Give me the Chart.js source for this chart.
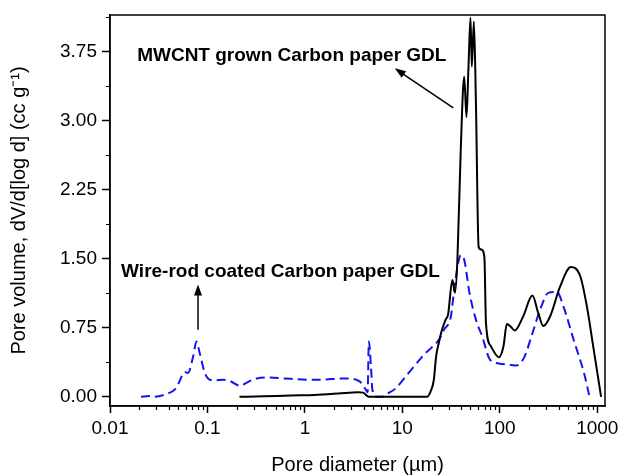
<!DOCTYPE html>
<html><head><meta charset="utf-8">
<script src="https://cdn.jsdelivr.net/npm/chart.js@4.4.1/dist/chart.umd.min.js"></script>
<style>html,body{margin:0;padding:0;background:#fff}</style>
</head><body>
<canvas id="c" width="619" height="475"></canvas>
<script>
// ---- data ----
const mwcntDiameter = [0.213,0.376,0.716,1.25,2.2,3.52,3.96,4.53,17.9,19.5,21.0,22.2,23.7,25.2,27.8,29.4,32.6,34.7,36.7,39.7,43.1,45.5,47.7,50.0,51.6,54.2,56.8,60.6,64.6,69.4,72.1,81,98,109,118,130,142,173,216,248,279,327,416,535,669,783,920,1094];
const mwcntVolume   = [0.0,0.005,0.015,0.02,0.035,0.05,0.045,0.0,0.0,0.06,0.18,0.44,0.59,0.71,0.84,0.89,1.27,1.13,1.49,2.68,3.48,3.04,3.59,4.12,3.59,4.08,3.22,1.63,1.60,1.52,0.80,0.55,0.43,0.55,0.79,0.76,0.72,0.87,1.10,0.91,0.77,0.87,1.20,1.41,1.31,0.98,0.51,0.0];
const wireDiameter  = [0.0208,0.0253,0.0285,0.0378,0.0472,0.051,0.0584,0.063,0.0714,0.077,0.0835,0.094,0.106,0.119,0.146,0.171,0.217,0.254,0.32,0.44,0.61,1.25,2.77,3.37,3.8,4.2,4.4,4.53,4.76,4.92,5.43,6.1,7.2,8.5,11.6,17.1,23.7,26.8,31.4,34,36.7,39.7,43.1,48.8,56.8,66.2,77.7,91.2,99.3,125,147,180,210,266,314,385,450,572,730,825];
const wireVolume    = [0.0,0.01,0.0,0.03,0.09,0.155,0.27,0.26,0.44,0.60,0.47,0.26,0.185,0.18,0.185,0.17,0.12,0.155,0.20,0.21,0.20,0.185,0.20,0.185,0.15,0.08,0.05,0.60,0.33,0.08,0.0,0.0,0.04,0.09,0.26,0.47,0.62,0.73,0.87,1.16,1.41,1.54,1.49,1.13,0.84,0.65,0.42,0.37,0.36,0.35,0.34,0.44,0.65,0.98,1.13,1.14,0.98,0.62,0.26,0.02];
const xTickValues = [0.01,0.1,1,10,100,1000];
const xTickLabels = ['0.01','0.1','1','10','100','1000'];
const yTickValues = [0,0.75,1.5,2.25,3,3.75];
const yTickLabels = ['0.00','0.75','1.50','2.25','3.00','3.75'];
const seriesNames = ['MWCNT grown Carbon paper GDL','Wire-rod coated Carbon paper GDL'];

const toPts = (xs, ys) => xs.map((x, i) => ({x, y: ys[i]}));
const FONT = "'Liberation Sans', Arial, sans-serif";

const extras = {
  id: 'extras',
  afterDraw(chart) {
    const {ctx, chartArea: a, scales: {x, y}} = chart;
    ctx.save();
    ctx.strokeStyle = '#000';
    ctx.lineWidth = 1.5;
    ctx.strokeRect(a.left, a.top, a.right - a.left, a.bottom - a.top);
    // minor ticks
    ctx.lineWidth = 1.2;
    ctx.beginPath();
    for (let d = 0.01; d < 2000; d *= 10) {
      for (let k = 2; k <= 9; k++) {
        const v = k * d;
        if (v > x.max) break;
        const px = Math.round(x.getPixelForValue(v)) + 0.5;
        ctx.moveTo(px, a.bottom);
        ctx.lineTo(px, a.bottom + 4);
      }
    }
    for (let v = 0.375; v < y.max; v += 0.75) {
      const py = Math.round(y.getPixelForValue(v)) + 0.5;
      ctx.moveTo(a.left, py);
      ctx.lineTo(a.left - 4, py);
    }
    ctx.stroke();
    // annotations
    ctx.fillStyle = '#000';
    ctx.font = "bold 19px " + FONT;
    ctx.textBaseline = 'middle';
    ctx.textAlign = 'left';
    ctx.fillText(seriesNames[0], x.getPixelForValue(0.019), y.getPixelForValue(3.71));
    ctx.fillText(seriesNames[1], x.getPixelForValue(0.013), y.getPixelForValue(1.36));
    const arrow = (x0, y0, x1, y1) => {
      const ang = Math.atan2(y1 - y0, x1 - x0);
      const L = 11, W = 4;
      ctx.lineWidth = 1.5;
      ctx.beginPath();
      ctx.moveTo(x0, y0);
      ctx.lineTo(x1 - Math.cos(ang) * L * 0.8, y1 - Math.sin(ang) * L * 0.8);
      ctx.stroke();
      ctx.beginPath();
      ctx.moveTo(x1, y1);
      ctx.lineTo(x1 - Math.cos(ang) * L + Math.sin(ang) * W, y1 - Math.sin(ang) * L - Math.cos(ang) * W);
      ctx.lineTo(x1 - Math.cos(ang) * L - Math.sin(ang) * W, y1 - Math.sin(ang) * L + Math.cos(ang) * W);
      ctx.closePath();
      ctx.fill();
    };
    arrow(x.getPixelForValue(33.3), y.getPixelForValue(3.14), x.getPixelForValue(8.36), y.getPixelForValue(3.57));
    arrow(x.getPixelForValue(0.08), y.getPixelForValue(0.73), x.getPixelForValue(0.08), y.getPixelForValue(1.22));
    ctx.restore();
  }
};

new Chart(document.getElementById('c'), {
  type: 'line',
  data: {
    datasets: [
      {label: seriesNames[0], data: toPts(mwcntDiameter, mwcntVolume), borderColor: '#000', borderWidth: 2, pointRadius: 0, cubicInterpolationMode: 'monotone', fill: false},
      {label: seriesNames[1], data: toPts(wireDiameter, wireVolume), borderColor: '#1414f0', borderWidth: 2, borderDash: [9, 5], pointRadius: 0, cubicInterpolationMode: 'monotone', fill: false}
    ]
  },
  options: {
    responsive: false,
    animation: false,
    layout: {padding: {top: 15, right: 14, left: 0, bottom: 0}},
    plugins: {legend: {display: false}, tooltip: {enabled: false}},
    scales: {
      x: {
        type: 'logarithmic', min: 0.01, max: 1200,
        afterBuildTicks: s => { s.ticks = xTickValues.map(v => ({value: v, major: true})); },
        afterFit: s => { s.height = 69; s.paddingRight = 0; s.paddingLeft = 0; },
        ticks: {
          autoSkip: false, maxRotation: 0, color: '#000', padding: 4,
          font: {family: FONT, size: 19},
          callback: v => { const i = xTickValues.indexOf(v); return i >= 0 ? xTickLabels[i] : ''; }
        },
        grid: {drawOnChartArea: false, tickLength: 7, tickWidth: 1.5, tickColor: '#000'},
        border: {color: '#000', width: 1.5},
        title: {display: true, text: 'Pore diameter (µm)', color: '#000', font: {family: FONT, size: 20, lineHeight: 1.0}, padding: {top: 0, bottom: 0}}
      },
      y: {
        min: -0.1, max: 4.15,
        afterBuildTicks: s => { s.ticks = yTickValues.map(v => ({value: v})); },
        afterFit: s => { s.width = 110; s.paddingTop = 0; s.paddingBottom = 0; },
        ticks: {
          color: '#000', padding: 5,
          font: {family: FONT, size: 19},
          callback: v => { const i = yTickValues.indexOf(v); return i >= 0 ? yTickLabels[i] : ''; }
        },
        grid: {drawOnChartArea: false, tickLength: 8, tickWidth: 1.5, tickColor: '#000'},
        border: {color: '#000', width: 1.5},
        title: {display: true, text: 'Pore volume, dV/d[log d] (cc g⁻¹)', color: '#000', font: {family: FONT, size: 20}, padding: {top: 7, bottom: 0}}
      }
    }
  },
  plugins: [extras]
});
</script>
</body></html>
